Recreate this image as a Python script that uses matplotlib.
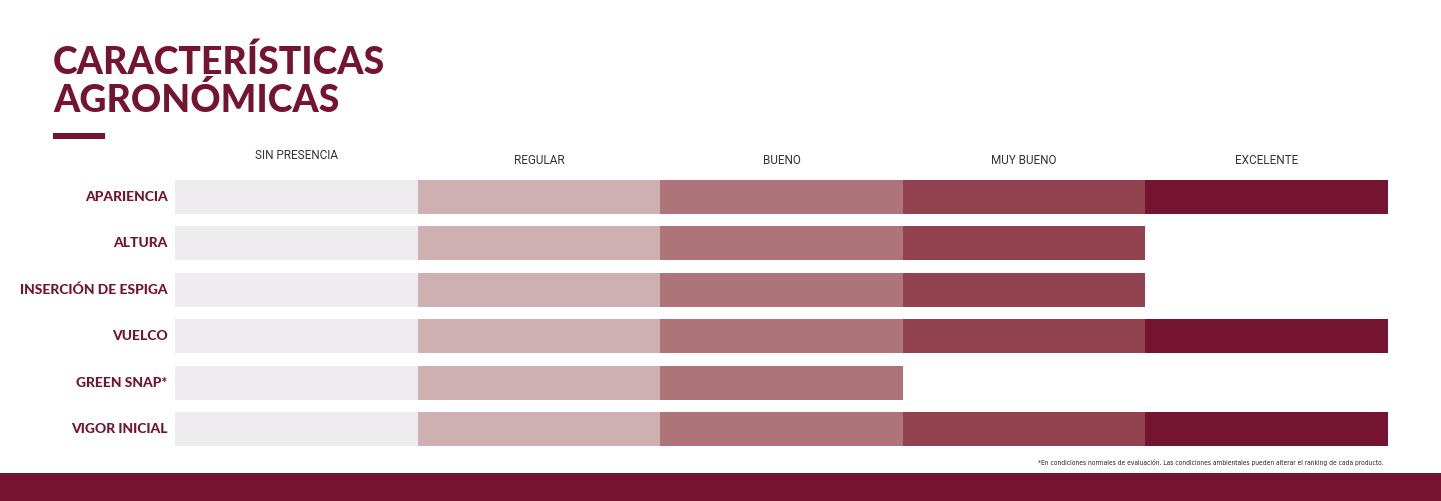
import matplotlib
matplotlib.use("Agg")
import matplotlib.pyplot as plt
from matplotlib.patches import Rectangle

W, H = 1441, 501

levels = ["SIN PRESENCIA", "REGULAR", "BUENO", "MUY BUENO", "EXCELENTE"]
level_colors = ["#EEECEE", "#CEB0B2", "#AD7479", "#92434F", "#751430"]
traits = ["APARIENCIA", "ALTURA", "INSERCIÓN DE ESPIGA", "VUELCO", "GREEN SNAP*", "VIGOR INICIAL"]
scores = [5, 4, 4, 5, 3, 5]

wine = "#751430"

fig = plt.figure(figsize=(W / 100, H / 100), dpi=100)
fig.patch.set_facecolor("white")


def px(x0, y0, x1, y1):
    # pixel box (top-left origin) -> figure fraction [l, b, w, h]
    return [x0 / W, 1 - y1 / H, (x1 - x0) / W, (y1 - y0) / H]


bar_h = 34 / 46.4
ax = fig.add_axes(px(175, 180, 1388, 446))
for i, (t, s) in enumerate(zip(traits, scores)):
    for j in range(s):
        ax.barh(i, 1, left=j, height=bar_h, color=level_colors[j], linewidth=0)
ax.set_xlim(0, 5)
ax.set_ylim(len(traits) - 1 + bar_h / 2, -bar_h / 2)
ax.axis("off")

for i, t in enumerate(traits):
    ax.text(-0.03, i, t, ha="right", va="center", fontsize=10, fontweight="black",
            family="Lato", color=wine)

for j, lv in enumerate(levels):
    y = -0.905 if j == 0 else -0.776
    ax.text(j + 0.5, y, lv, ha="center", va="center", fontsize=8.5,
            family="Roboto", color="#333333")

fig.text(53 / W, 1 - 62 / H, "CARACTERÍSTICAS", fontsize=27, fontweight="black",
         family="Lato", color=wine, va="center", ha="left")
fig.text(53 / W, 1 - 100 / H, "AGRONÓMICAS", fontsize=27, fontweight="black",
         family="Lato", color=wine, va="center", ha="left")
fig.patches.append(Rectangle((53 / W, 1 - 139 / H), 52 / W, 6 / H,
                             transform=fig.transFigure, color=wine, linewidth=0))

foot = fig.text(1383 / W, 1 - 463 / H,
                "*En condiciones normales de evaluación. Las condiciones ambientales pueden alterar el ranking de cada producto.",
                fontsize=5.6, family="DejaVu Sans", fontstretch="condensed", color="#222222",
                ha="right", va="center")

fig.patches.append(Rectangle((0, 0), 1, 28 / H, transform=fig.transFigure,
                             color=wine, linewidth=0))

# squeeze the footnote to its width in the reference (~343 px)
fig.canvas.draw()
bb = foot.get_window_extent()
if bb.width > 350:
    foot.set_fontsize(5.6 * 343 / bb.width)

fig.savefig("out.png", dpi=100, facecolor="white")
